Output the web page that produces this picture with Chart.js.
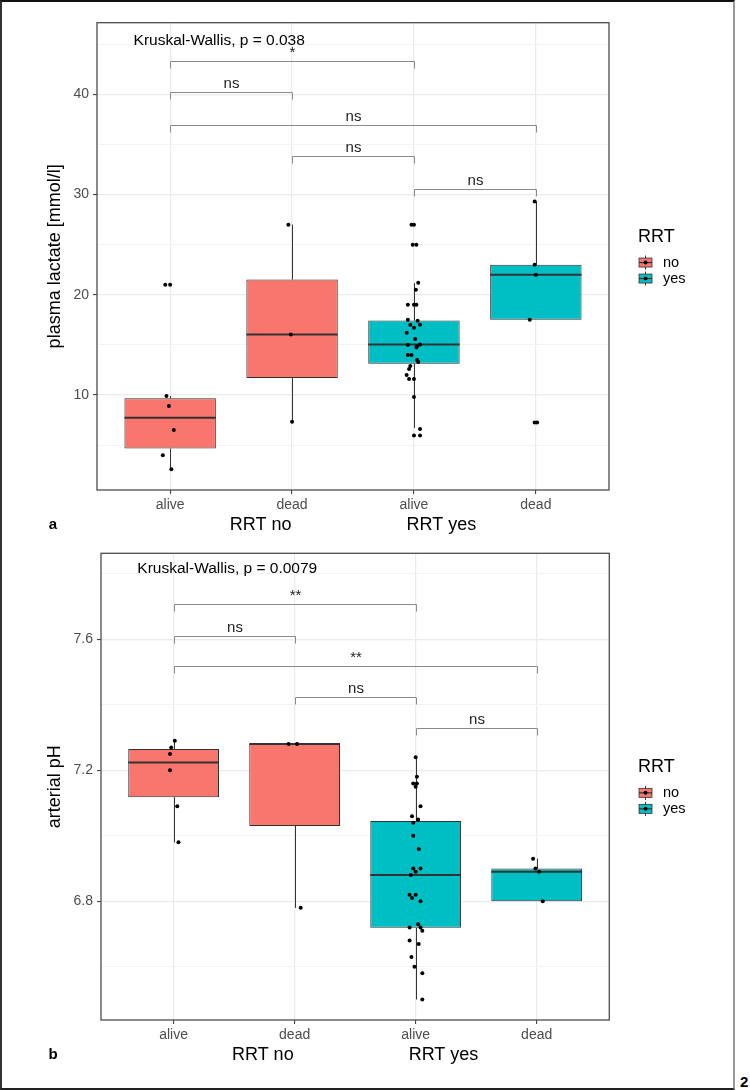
<!DOCTYPE html>
<html>
<head>
<meta charset="utf-8">
<script src="https://cdn.jsdelivr.net/npm/chart.js@4.4.0/dist/chart.umd.min.js"></script>
<style>
  body { margin: 0; background: #fff; }
  #page { position: relative; width: 750px; height: 1090px; overflow: hidden; font-family: 'Liberation Sans', Arial, sans-serif; }
  #frame { position: absolute; left: 0; top: 0; width: 735px; height: 1090px; box-sizing: border-box;
    border-top: 2px solid #111; border-left: 2px solid #333; border-right: 2px solid #999; border-bottom: 2px solid #222; }
  canvas { position: absolute; left: 0; }
  #figno { position: absolute; left: 740px; top: 1073px; font-weight: bold; font-size: 15px; }
</style>
</head>
<body>
<div id="page">
  <div id="frame"></div>
  <canvas id="chartA" width="735" height="540" style="top:0px"></canvas>
  <canvas id="chartB" width="735" height="548" style="top:540px"></canvas>
  <div id="figno">2</div>
</div>
<script>
const groups = ['alive', 'dead', 'alive', 'dead']
const boxColors = ['#F8766D', '#F8766D', '#00BFC4', '#00BFC4']
const legendLabels = ['no', 'yes']
const legendColors = ['#F8766D', '#00BFC4']

// panel a: plasma lactate
const lacQ1 = [4.66, 11.69, 13.11, 17.5]
const lacMed = [7.74, 16.04, 15.04, 22.0]
const lacQ3 = [9.67, 21.52, 17.43, 23.0]
const lacLo = [2.64, 7.34, 6.7, 17.5]
const lacHi = [9.9, 27.0, 21.17, 29.3]
const lacPtsX = [0.97, 0.99, 1.03, 0.94, 1.01, 0.96, 1.0,
  1.97, 1.99, 2.0,
  2.98, 3.0, 2.99, 3.02, 3.035, 3.016, 2.95, 3.0, 3.02, 2.95, 3.03, 2.97, 3.05, 3.0, 2.94, 3.01,
  2.95, 3.02, 3.025, 3.05, 2.95, 2.98, 3.025, 3.035, 2.97, 2.96, 2.94, 2.96, 3.0, 3.0, 3.05, 3.0, 3.05,
  3.99, 3.99, 4.0, 3.95, 3.99, 4.01]
const lacPtsY = [9.9, 8.9, 6.5, 4.0, 2.6, 21.0, 21.0,
  27.0, 16.04, 7.34,
  27.0, 27.0, 25.0, 25.0, 21.2, 20.5, 19.0, 19.0, 19.0, 17.5, 17.4, 17.0, 17.0, 16.7, 16.2, 15.6,
  15.0, 14.75, 14.9, 15.05, 14.0, 14.0, 13.5, 13.3, 12.9, 12.6, 12.0, 11.6, 11.6, 9.8, 6.6, 5.95, 5.95,
  29.3, 23.0, 22.0, 17.5, 7.25, 7.25]
const lacTicks = [5, 10, 15, 20, 25, 30, 35, 40, 45]
const lacMajor = [10, 20, 30, 40]
const lacBrFrom = [1, 1, 1, 2, 3]
const lacBrTo = [3, 2, 4, 3, 4]
const lacBrY = [43.33, 40.25, 36.97, 33.81, 30.57]
const lacBrLab = ['*', 'ns', 'ns', 'ns', 'ns']

// panel b: arterial pH
const phQ1 = [7.118, 7.03, 6.719, 6.80]
const phMed = [7.224, 7.28, 6.88, 6.89]
const phQ3 = [7.265, 7.28, 7.045, 6.90]
const phLo = [6.98, 6.78, 6.50, 6.80]
const phHi = [7.29, 7.28, 7.242, 6.93]
const phPtsX = [1.01, 0.98, 0.97, 0.97, 1.03, 1.04,
  1.95, 2.02, 2.05,
  3.0, 3.01, 2.98, 3.0, 3.01, 3.04, 2.97, 2.98, 3.02, 2.98, 3.025, 2.98, 3.0, 3.04, 2.96,
  2.95, 2.97, 3.0, 3.04, 2.95, 3.02, 3.04, 3.055, 2.95, 3.025, 2.965, 2.99, 3.055, 3.055,
  3.97, 3.99, 4.02, 4.05]
const phPtsY = [7.29, 7.27, 7.25, 7.20, 7.09, 6.98,
  7.28, 7.28, 6.78,
  7.24, 7.18, 7.16, 7.15, 7.16, 7.09, 7.06, 7.04, 7.05, 7.00, 6.96, 6.90, 6.89, 6.90, 6.88,
  6.82, 6.81, 6.82, 6.80, 6.72, 6.73, 6.72, 6.71, 6.68, 6.67, 6.63, 6.60, 6.58, 6.50,
  6.93, 6.90, 6.89, 6.80]
const phTicks = [6.6, 6.8, 7.0, 7.2, 7.4, 7.6, 7.8]
const phMajor = [6.8, 7.2, 7.6]
const phBrFrom = [1, 1, 1, 2, 3]
const phBrTo = [3, 2, 4, 3, 4]
const phBrY = [7.708, 7.611, 7.518, 7.425, 7.328]
const phBrLab = ['**', 'ns', '**', 'ns', 'ns']

const FONT = "'Liberation Sans', Arial, sans-serif"
Chart.defaults.font.family = FONT

function isMajor(list, v) {
  return list.some(m => Math.abs(m - v) < 1e-6)
}

function boxPlugin(p) {
  return {
    id: 'boxExtras',
    beforeDatasetsDraw(chart) {
      // whiskers go under the boxes
      const { ctx, scales: { x, y } } = chart
      ctx.save()
      ctx.strokeStyle = '#333'
      ctx.lineWidth = 1
      p.q1.forEach((q, i) => {
        const px = Math.round(x.getPixelForValue(i + 1)) + 0.5
        ctx.beginPath()
        ctx.moveTo(px, y.getPixelForValue(p.lo[i]))
        ctx.lineTo(px, y.getPixelForValue(q))
        ctx.moveTo(px, y.getPixelForValue(p.q3[i]))
        ctx.lineTo(px, y.getPixelForValue(p.hi[i]))
        ctx.stroke()
      })
      ctx.restore()
    },
    afterDatasetDraw(chart, args) {
      if (args.meta.type !== 'bar') return
      const { ctx, scales: { y } } = chart
      ctx.save()
      ctx.strokeStyle = '#333'
      ctx.lineWidth = 2
      args.meta.data.forEach((el, i) => {
        const py = y.getPixelForValue(p.med[i])
        ctx.beginPath()
        ctx.moveTo(el.x - el.width / 2, py)
        ctx.lineTo(el.x + el.width / 2, py)
        ctx.stroke()
      })
      ctx.restore()
    },
    afterDatasetsDraw(chart) {
      const { ctx, scales: { x, y } } = chart
      ctx.save()
      // significance brackets
      p.brFrom.forEach((f, i) => {
        const x1 = Math.round(x.getPixelForValue(f)) + 0.5
        const x2 = Math.round(x.getPixelForValue(p.brTo[i])) + 0.5
        const py = Math.round(y.getPixelForValue(p.brY[i])) + 0.5
        ctx.strokeStyle = '#8a8a8a'
        ctx.lineWidth = 1
        ctx.beginPath()
        ctx.moveTo(x1, py + 7)
        ctx.lineTo(x1, py)
        ctx.lineTo(x2, py)
        ctx.lineTo(x2, py + 7)
        ctx.stroke()
        ctx.fillStyle = '#222'
        ctx.font = '15px ' + FONT
        ctx.textAlign = 'center'
        ctx.textBaseline = 'alphabetic'
        ctx.fillText(p.brLab[i], (x1 + x2) / 2, py - 5)
      })
      // Kruskal-Wallis label
      ctx.fillStyle = '#000'
      ctx.font = '15.5px ' + FONT
      ctx.textAlign = 'left'
      ctx.textBaseline = 'middle'
      ctx.fillText(p.kw, x.getPixelForValue(0.7), y.getPixelForValue(p.kwY))
      ctx.restore()
    },
    afterDraw(chart) {
      const { ctx, chartArea: a } = chart
      ctx.save()
      // panel border
      ctx.strokeStyle = '#4d4d4d'
      ctx.lineWidth = 1.3
      ctx.strokeRect(a.left, a.top, a.right - a.left, a.bottom - a.top)
      // legend
      const cy = (a.top + a.bottom) / 2
      ctx.fillStyle = '#000'
      ctx.font = '18px ' + FONT
      ctx.textAlign = 'left'
      ctx.textBaseline = 'middle'
      ctx.fillText('RRT', 638, cy - 19.5)
      legendLabels.forEach((lab, i) => {
        const ky = cy + 6.2 + i * 16
        ctx.strokeStyle = '#333'
        ctx.lineWidth = 1
        ctx.beginPath()
        ctx.moveTo(645.5, ky - 7)
        ctx.lineTo(645.5, ky + 7)
        ctx.stroke()
        ctx.fillStyle = legendColors[i]
        ctx.fillRect(639, ky - 4.5, 13, 9)
        ctx.lineWidth = 0.8
        ctx.strokeRect(639, ky - 4.5, 13, 9)
        ctx.lineWidth = 1.2
        ctx.beginPath()
        ctx.moveTo(639, ky)
        ctx.lineTo(652, ky)
        ctx.stroke()
        ctx.fillStyle = '#000'
        ctx.beginPath()
        ctx.arc(645.5, ky, 2, 0, Math.PI * 2)
        ctx.fill()
        ctx.font = '14.5px ' + FONT
        ctx.fillText(lab, 663, ky)
      })
      // panel tag
      ctx.font = 'bold 15px ' + FONT
      ctx.textAlign = 'center'
      ctx.fillText(p.tag, 53, a.bottom + 35)
      ctx.restore()
    }
  }
}

function makeChart(id, p) {
  const pts = p.ptsX.map((v, i) => ({ x: v, y: p.ptsY[i] }))
  return new Chart(document.getElementById(id), {
    type: 'bar',
    data: {
      datasets: [{
        type: 'bar',
        data: p.q1.map((q, i) => ({ x: i + 1, y: [q, p.q3[i]] })),
        backgroundColor: boxColors,
        borderColor: '#333',
        borderWidth: 1,
        borderSkipped: false,
        categoryPercentage: 1,
        barPercentage: 0.75,
        order: 2
      }, {
        type: 'scatter',
        data: pts,
        pointRadius: 2,
        pointHoverRadius: 2,
        borderWidth: 0,
        backgroundColor: '#000',
        order: 1
      }]
    },
    options: {
      responsive: false,
      animation: false,
      devicePixelRatio: 1,
      events: [],
      layout: { padding: p.pad },
      plugins: { legend: { display: false }, tooltip: { enabled: false } },
      scales: {
        x: {
          type: 'linear',
          offset: false,
          min: 0.4,
          max: 4.6,
          afterBuildTicks: s => { s.ticks = [1, 2, 3, 4].map(v => ({ value: v })) },
          afterFit: s => { s.height = 50 },
          ticks: {
            autoSkip: false, maxRotation: 0, padding: 3, color: '#4D4D4D',
            font: { size: 14 },
            callback: v => groups[Math.round(v) - 1]
          },
          grid: { offset: false, color: '#EBEBEB', lineWidth: 1.2, tickLength: 4, tickColor: '#333', tickWidth: 1 },
          border: { display: false },
          title: {
            display: true,
            text: 'RRT no' + ' '.repeat(23) + 'RRT yes',
            color: '#000',
            font: { size: 18 },
            padding: { top: 0, bottom: 4 }
          }
        },
        y: {
          type: 'linear',
          min: p.yMin,
          max: p.yMax,
          afterBuildTicks: s => { s.ticks = p.ticks.map(v => ({ value: v })) },
          afterFit: s => { s.width = p.yWidth },
          ticks: {
            autoSkip: false, padding: 4, color: '#4D4D4D',
            font: { size: 14 },
            callback: v => isMajor(p.major, v) ? v.toFixed(p.dec) : ''
          },
          grid: {
            color: c => isMajor(p.major, c.tick.value) ? '#EBEBEB' : '#F3F3F3',
            lineWidth: c => isMajor(p.major, c.tick.value) ? 1.2 : 1,
            tickLength: 4,
            tickColor: c => isMajor(p.major, c.tick.value) ? '#333' : 'rgba(0,0,0,0)',
            tickWidth: 1
          },
          border: { display: false },
          title: {
            display: true,
            text: p.yTitle,
            color: '#000',
            font: { size: 18 },
            padding: { top: 44, bottom: 0 }
          }
        }
      }
    },
    plugins: [boxPlugin(p)]
  })
}

makeChart('chartA', {
  q1: lacQ1, med: lacMed, q3: lacQ3, lo: lacLo, hi: lacHi,
  ptsX: lacPtsX, ptsY: lacPtsY,
  ticks: lacTicks, major: lacMajor, dec: 0,
  yMin: 0.52, yMax: 47.15,
  brFrom: lacBrFrom, brTo: lacBrTo, brY: lacBrY, brLab: lacBrLab,
  kw: 'Kruskal-Wallis, p = 0.038', kwY: 45.39,
  yTitle: 'plasma lactate [mmol/l]', tag: 'a',
  yWidth: 97,
  pad: { left: 0, right: 126, top: 22.7, bottom: 0 }
})

makeChart('chartB', {
  q1: phQ1, med: phMed, q3: phQ3, lo: phLo, hi: phHi,
  ptsX: phPtsX, ptsY: phPtsY,
  ticks: phTicks, major: phMajor, dec: 1,
  yMin: 6.4376, yMax: 7.8626,
  brFrom: phBrFrom, brTo: phBrTo, brY: phBrY, brLab: phBrLab,
  kw: 'Kruskal-Wallis, p = 0.0079', kwY: 7.814,
  yTitle: 'arterial pH', tag: 'b',
  yWidth: 101,
  pad: { left: 0, right: 125.7, top: 13.3, bottom: 18 }
})
</script>
</body>
</html>
